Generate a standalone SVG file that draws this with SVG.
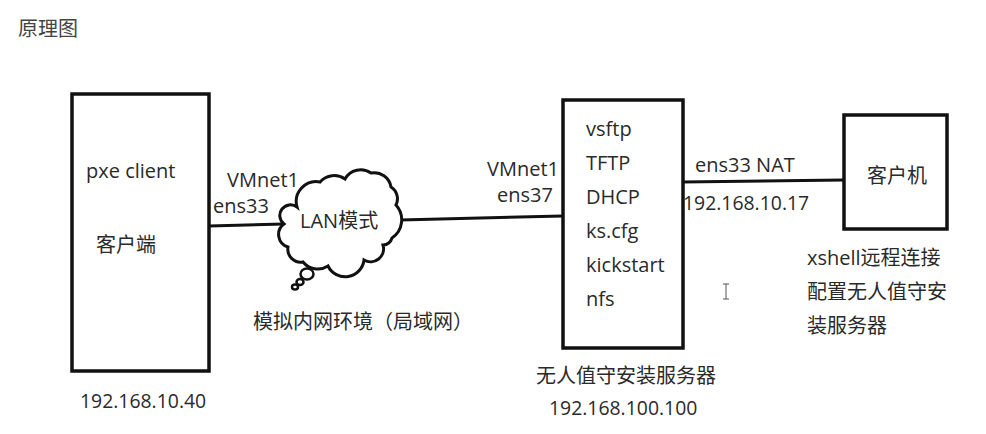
<svg xmlns="http://www.w3.org/2000/svg" width="986" height="434" viewBox="0 0 986 434">
<style>
text{font-family:"Open Sans","Noto Sans CJK SC",sans-serif;font-size:20px;fill:#2a2a2a}
.n{font-size:19.4px}
.b{fill:#fff;stroke:#111;stroke-width:3.5}
.l{fill:none;stroke:#111;stroke-width:3}
.c{fill:#fff;stroke:#111;stroke-width:3}
.s{stroke-width:2.5}
</style>
<rect width="986" height="434" fill="#fff"/>
<text x="18" y="36" style="fill:#444">原理图</text>
<g id="connectors">
<path class="l" d="M209 226L284 224"/>
<path class="l" d="M400 220L563 216"/>
<path class="l" d="M682 182L844 180"/>
</g>
<g id="client"><rect class="b" x="72" y="94" width="137" height="277"/>
<text x="86" y="178">pxe client</text><text x="96" y="252">客户端</text></g>
<g id="cloud"><path class="c" d="M288 247A13 13 0 0 1 284 224A10 10 0 0 1 297 207A20 20 0 0 1 320 182A19 19 0 0 1 345 179A18 18 0 0 1 371 173A17 17 0 0 1 391 187A14 14 0 0 1 396 205A22 22 0 0 1 392 238A10 10 0 0 1 383 245A13 13 0 0 1 364 260A19 19 0 0 1 328 266A19 19 0 0 1 303 262A13 13 0 0 1 288 247Z"/>
<ellipse class="c s" cx="307" cy="274" rx="6.5" ry="5.5"/><ellipse class="c s" cx="300" cy="282" rx="3.5" ry="3"/><ellipse class="c s" cx="295" cy="287" rx="3" ry="2.5"/>
<text x="300" y="228">LAN模式</text></g>
<g id="server"><rect class="b" x="563" y="100" width="120" height="248"/>
<text x="586" y="136">vsftp</text><text x="586" y="170">TFTP</text><text x="586" y="204">DHCP</text><text x="586" y="238">ks.cfg</text><text x="586" y="272">kickstart</text><text x="586" y="306">nfs</text></g>
<g id="host"><rect class="b" x="844" y="115" width="103" height="114"/><text x="867" y="183">客户机</text></g>
<g id="labels">
<text x="227" y="187">VMnet1</text><text x="213" y="213">ens33</text>
<text x="487" y="176">VMnet1</text><text x="497" y="202">ens37</text>
<text x="695" y="172">ens33 NAT</text><text class="n" x="683" y="210">192.168.10.17</text>
<text x="253" y="329">模拟内网环境（局域网）</text>
<text class="n" x="80" y="408">192.168.10.40</text>
<text x="536" y="383">无人值守安装服务器</text><text class="n" x="549" y="415">192.168.100.100</text>
<text x="807" y="265">xshell远程连接</text><text x="807" y="299">配置无人值守安</text><text x="807" y="333">装服务器</text>
</g>
<path d="M723 284H729M726 284V299M723 299H729" fill="none" stroke="#555" stroke-width="1"/>
</svg>
